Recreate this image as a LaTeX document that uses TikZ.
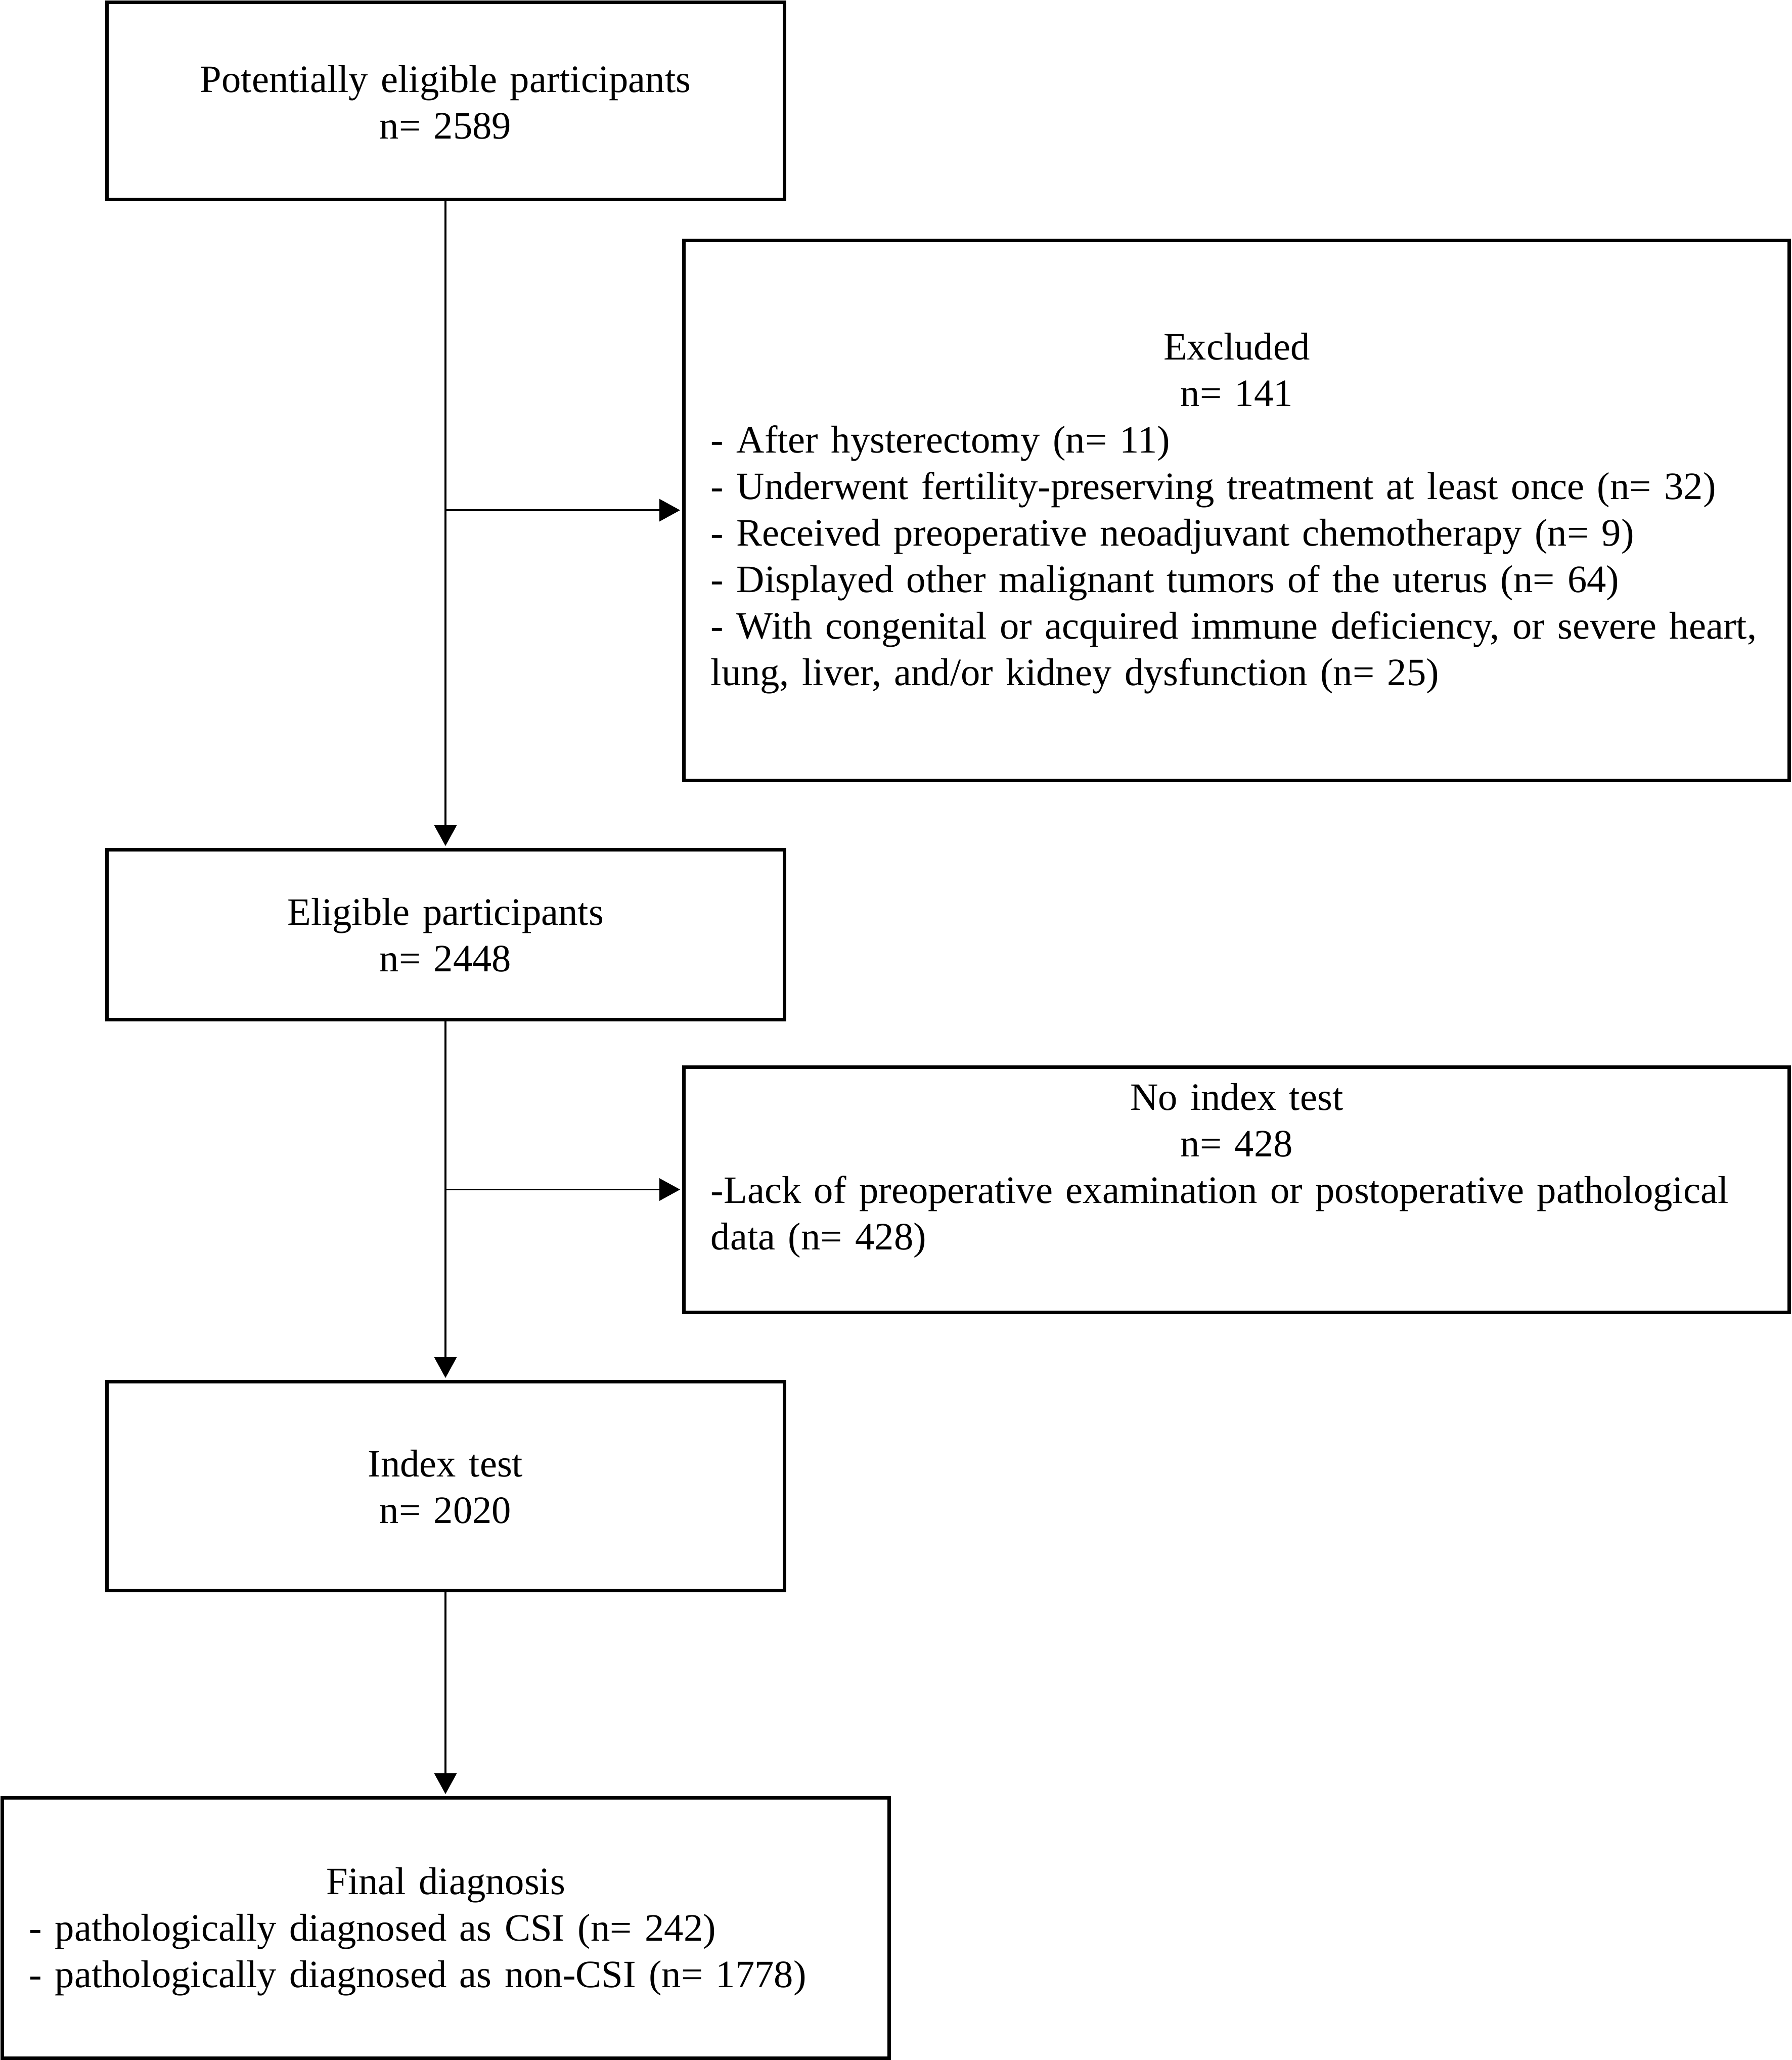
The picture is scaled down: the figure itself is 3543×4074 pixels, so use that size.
\documentclass[tikz,border=0pt]{standalone}
\usepackage{fontspec}
\setmainfont{Liberation Serif}
\usetikzlibrary{arrows.meta}
\begin{document}
\begin{tikzpicture}[x=0.1mm,y=-0.1mm,
  box/.style={draw, line width=0.7mm, inner sep=0pt, fill=white},
  txt/.style={inner sep=0pt, font=\fontsize{21.8pt}{26.2pt}\selectfont},
  conn/.style={line width=0.35mm, -{Triangle[length=4.1mm,width=4.4mm]}, shorten >=0.35mm}]
\path[use as bounding box, fill=white] (0,0) rectangle (3543,4074);
% boxes
\node[box, minimum width=134mm, minimum height=39mm] (b1) at (881,199) {};
\node[box, minimum width=218.6mm, minimum height=106.8mm] (excl) at (2445,1009) {};
\node[box, minimum width=134mm, minimum height=33.6mm] (elig) at (881,1848) {};
\node[box, minimum width=218.6mm, minimum height=48.5mm] (noidx) at (2445,2352.5) {};
\node[box, minimum width=134mm, minimum height=41.3mm] (idx) at (881,2938.5) {};
\node[box, minimum width=175.4mm, minimum height=51.5mm] (fin) at (881,3812.5) {};
% texts
\node[txt, text width=130mm, align=center, anchor=base] (t1) at (881,182)
  {Potentially eligible participants\\n= 2589};
\node[txt, text width=208mm, align=left, anchor=base west] (t2) at (1405,711)
  {{\centering Excluded\\n= 141\par}- After hysterectomy (n= 11)\\- Underwent fertility-preserving treatment at least once (n= 32)\\- Received preoperative neoadjuvant chemotherapy (n= 9)\\- Displayed other malignant tumors of the uterus (n= 64)\\- With congenital or acquired immune deficiency, or severe heart,\\lung, liver, and/or kidney dysfunction (n= 25)};
\node[txt, text width=130mm, align=center, anchor=base] (t3) at (881,1829)
  {Eligible participants\\n= 2448};
\node[txt, text width=208mm, align=left, anchor=base west] (t4) at (1405,2195)
  {{\centering No index test\\n= 428\par}-Lack of preoperative examination or postoperative pathological\\data (n= 428)};
\node[txt, text width=130mm, align=center, anchor=base] (t5) at (881,2920)
  {Index test\\n= 2020};
\node[txt, text width=164.8mm, align=left, anchor=base west] (t6) at (57,3746)
  {{\centering Final diagnosis\par}- pathologically diagnosed as CSI (n= 242)\\- pathologically diagnosed as non-CSI (n= 1778)};
% connectors
\coordinate (j1) at (b1.south |- excl.west);
\coordinate (j2) at (elig.south |- noidx.west);
\draw[conn] (b1.south) -- (elig.north);
\draw[conn] (j1) -- (excl.west);
\draw[conn] (elig.south) -- (idx.north);
\draw[conn] (j2) -- (noidx.west);
\draw[conn] (idx.south) -- (fin.north);
\end{tikzpicture}
\end{document}
